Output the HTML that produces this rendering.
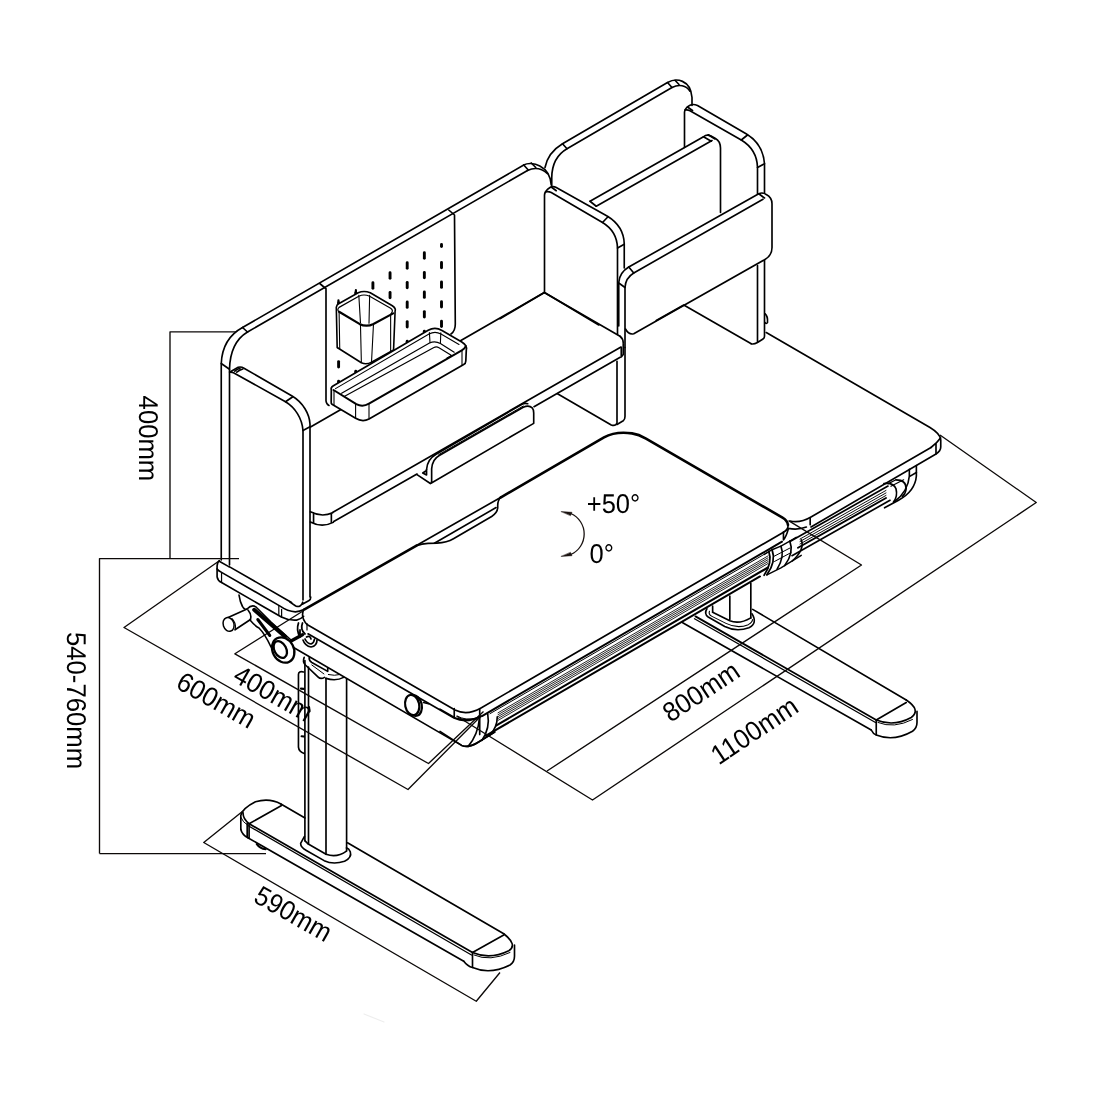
<!DOCTYPE html>
<html><head><meta charset="utf-8"><title>Desk dimensions</title>
<style>
html,body{margin:0;padding:0;background:#fff;}
body{width:1100px;height:1100px;overflow:hidden;font-family:"Liberation Sans",Arial,sans-serif;}
svg{display:block}
svg path, svg line{stroke:#000;stroke-linecap:round;stroke-linejoin:round}
svg text{font-family:"Liberation Sans",Arial,sans-serif;fill:#000;text-rendering:geometricPrecision}
</style></head><body>
<svg width="1100" height="1100" viewBox="0 0 1100 1100">
<rect width="1100" height="1100" fill="#fff"/>
<path d="M 545.00 167.50 Q 548.00 152.50 562.50 143.75 L 667.50 82.50 C 676.25 77.50 690.50 79.50 692.00 97.50 L 692.00 105.50" stroke-width="1.65" fill="none" />
<path d="M 551.75 186.25 L 551.75 177.50 Q 552.00 157.50 567.00 148.75 L 672.00 87.50 C 678.75 84.00 686.25 85.00 690.00 91.25" stroke-width="1.65" fill="none" />
<path d="M 562.50 143.75 L 567.00 148.75 M 667.50 82.50 L 672.00 87.50 M 675.00 80.25 L 679.00 84.50" stroke-width="1.65" fill="none" />
<path d="M 684.50 147.50 L 684.50 112.00 Q 685.00 108.00 689.50 105.50 Q 693.00 103.50 697.50 105.50 L 746.50 134.00 Q 763.00 144.00 764.50 163.75 L 764.50 193.00" stroke-width="1.65" fill="none" />
<path d="M 685.00 110.00 Q 687.50 109.50 690.00 110.75 L 741.25 140.00 Q 757.00 149.50 757.50 167.50 L 757.50 193.75" stroke-width="1.65" fill="none" />
<path d="M 687.50 107.00 L 692.50 110.50 M 741.25 140.00 L 747.50 135.00 M 757.50 167.50 L 764.50 163.75" stroke-width="1.65" fill="none" />
<path d="M 590.00 201.25 L 703.50 136.75 Q 706.50 134.00 710.50 135.75 L 715.50 138.50 Q 720.25 141.00 720.50 148.00 L 720.50 212.50" stroke-width="1.65" fill="none" />
<path d="M 596.25 206.25 L 712.00 140.50" stroke-width="1.65" fill="none" />
<path d="M 590.00 201.25 L 596.25 206.25 M 703.50 136.75 L 711.25 141.25 M 708.25 134.75 L 715.00 139.00" stroke-width="1.65" fill="none" />
<path d="M 544.50 292.50 L 544.50 195.00 Q 545.00 190.50 550.00 187.50 Q 553.00 185.75 556.25 187.50 L 607.50 216.25 Q 623.75 226.25 624.25 243.75 L 624.25 268.00" stroke-width="1.65" fill="none" />
<path d="M 545.50 192.00 Q 548.00 191.00 551.25 192.50 L 602.50 222.50 Q 617.00 231.25 617.50 248.00 L 617.50 334.50" stroke-width="1.65" fill="none" />
<path d="M 551.25 187.00 L 556.25 190.75 M 602.50 222.50 L 608.00 216.75 M 617.50 248.00 L 624.25 244.25" stroke-width="1.65" fill="none" />
<path d="M 500.00 318.75 L 544.50 292.50 L 598.75 325.00" stroke-width="1.65" fill="none" />
<path d="M 618.75 326.00 L 618.75 282.50 Q 619.50 272.50 628.75 267.00 L 758.75 193.75 Q 762.50 192.00 766.25 194.50 Q 772.00 197.50 772.00 203.75 L 772.00 247.50 Q 772.00 255.50 765.00 259.50 L 633.75 333.75 Q 628.75 335.00 625.50 329.00" stroke-width="1.65" fill="none" />
<path d="M 625.00 347.50 L 625.00 287.50 Q 625.50 278.00 633.75 273.00 L 763.00 199.25" stroke-width="1.65" fill="none" />
<path d="M 618.75 283.00 L 625.00 287.50 M 628.75 267.00 L 633.75 273.00 M 758.75 193.75 L 764.50 198.00" stroke-width="1.65" fill="none" />
<path d="M 757.50 265.50 L 757.50 342.50 M 764.50 260.50 L 764.50 336.25 Q 764.50 338.00 763.00 339.00 L 757.50 342.50 Q 753.75 344.50 751.25 343.75" stroke-width="1.65" fill="none" />
<path d="M 683.75 305.00 L 751.25 343.75 M 683.75 305.00 L 656.25 320.50" stroke-width="1.65" fill="none" />
<path d="M 765.00 313.75 Q 768.00 316.25 767.50 322.50 Q 766.50 324.50 765.00 322.50" stroke-width="1.65" fill="none" />
<path d="M 221.25 560.00 L 221.25 363.50 C 222.00 346.25 228.75 335.00 242.50 327.50" stroke-width="1.65" fill="none" />
<path d="M 242.50 327.50 L 523.75 165.00" stroke-width="1.65" fill="none" />
<path d="M 523.75 165.00 C 531.25 160.75 550.00 165.00 551.25 185.00" stroke-width="1.65" fill="none" />
<path d="M 229.50 372.00 L 229.50 369.25 C 230.00 350.00 236.25 338.75 247.50 332.00" stroke-width="1.65" fill="none" />
<path d="M 247.50 332.00 L 527.50 170.50" stroke-width="1.65" fill="none" />
<path d="M 527.50 170.50 C 533.75 167.50 541.25 168.00 547.50 173.75" stroke-width="1.65" fill="none" />
<path d="M 221.25 363.50 L 229.50 369.25 M 242.50 327.50 L 247.50 332.00" stroke-width="1.65" fill="none" />
<path d="M 523.75 165.00 L 528.25 170.00 M 531.25 163.00 L 535.75 167.50" stroke-width="1.65" fill="none" />
<path d="M 229.50 565.00 L 229.50 372.20 L 238.20 367.30 Q 241.20 366.50 244.00 368.20 L 292.50 396.20 C 303.00 402.50 309.50 414.00 310.00 424.00 L 310.00 597.00" stroke-width="1.65" fill="none" />
<path d="M 229.80 372.20 Q 231.50 371.80 233.50 372.70 L 285.50 401.80 C 295.00 407.50 302.00 418.00 303.00 430.50 L 303.00 600.00" stroke-width="1.65" fill="none" />
<path d="M 285.50 401.80 L 292.50 397.00 M 303.00 430.50 L 310.00 426.80 M 234.80 371.20 Q 237.00 369.00 240.00 368.20 M 236.80 372.20 Q 239.50 370.00 242.80 369.00" stroke-width="1.65" fill="none" />
<path d="M 310.50 427.00 L 544.25 292.50" stroke-width="1.65" fill="none" />
<path d="M 320.00 283.75 L 326.00 288.75 L 326.00 401.00 Q 326.50 404.50 329.00 405.50" stroke-width="1.65" fill="none" />
<path d="M 448.75 210.00 L 454.50 215.00 L 455.30 324.00 Q 455.30 331.00 451.00 334.00" stroke-width="1.65" fill="none" />
<path d="M 544.25 292.50 L 620.00 336.25" stroke-width="1.65" fill="none" />
<path d="M 620.00 336.25 Q 623.25 338.75 623.25 343.00" stroke-width="1.65" fill="none" />
<path d="M 621.00 347.00 L 332.50 512.50" stroke-width="1.65" fill="none" />
<path d="M 620.20 357.30 L 534.00 406.70" stroke-width="1.65" fill="none" />
<path d="M 417.00 474.00 L 333.75 521.50" stroke-width="1.65" fill="none" />
<path d="M 557.50 393.75 L 611.25 425.00 Q 615.50 426.50 617.00 423.00 L 617.00 361.25" stroke-width="1.65" fill="none" />
<path d="M 617.00 424.50 L 623.25 420.75 Q 625.00 419.50 625.00 416.50 L 625.00 347.50" stroke-width="1.65" fill="none" />
<path d="M 623.25 343.75 L 623.25 354.50 M 621.25 347.50 L 621.25 357.00 L 623.25 354.50" stroke-width="1.65" fill="none" />
<path d="M 417.00 474.64 L 430.36 483.55 M 426.55 469.55 L 426.55 475.02 L 422.73 472.98 L 426.55 470.44" stroke-width="1.65" fill="none" />
<path d="M 426.55 469.55 Q 427.18 459.36 436.09 454.27 L 522.00 404.25 Q 524.55 402.73 527.73 403.75" stroke-width="1.65" fill="none" />
<path d="M 431.64 481.64 L 431.64 468.91 Q 432.27 459.36 439.27 455.55 L 523.27 407.18 Q 529.00 404.64 532.18 407.82 Q 533.71 409.73 533.71 412.91 L 533.71 423.35 L 431.00 483.17 Z" stroke-width="1.65" fill="#fff" />
<path d="M 438.64 454.66 L 523.27 406.04" stroke-width="1.0" fill="none" />
<path d="M 310.36 511.82 Q 321.82 517.55 332.64 512.84 M 310.36 522.00 Q 321.82 528.11 333.27 522.38 M 313.55 512.84 L 313.55 522.64 M 331.36 513.47 L 331.36 523.02" stroke-width="1.65" fill="none" />
<path d="M 290.00 602.18 L 295.73 606.00 Q 300.82 607.91 302.73 602.18 M 302.73 604.09 L 309.09 600.53 Q 310.75 599.64 310.75 597.09" stroke-width="1.65" fill="none" />
<path d="M 416.00 545.80 L 501.00 497.20" stroke-width="1.65" fill="none" />
<path d="M 304.50 609.30 L 416.50 545.60" stroke-width="2.6" fill="none" />
<path d="M 500.50 497.60 L 604.00 437.40 C 612.00 433.00 622.00 432.00 632.00 433.40 C 638.00 434.30 642.00 436.30 646.00 438.60 L 782.50 517.60 Q 787.50 520.50 788.00 525.00" stroke-width="2.6" fill="none" />
<path d="M 788.00 525.00 Q 788.50 529.50 783.50 532.20" stroke-width="1.65" fill="none" />
<path d="M 416.55 545.73 Q 421.64 543.56 428.00 543.31 L 436.91 543.18 Q 447.09 542.55 453.46 538.73 L 491.64 516.46 Q 497.75 512.64 497.75 506.91 Q 497.37 500.55 500.55 497.36" stroke-width="1.65" fill="none" />
<path d="M 434.36 543.18 L 496.09 507.55" stroke-width="1.65" fill="none" />
<path d="M 304.00 609.00 Q 300.00 617.00 307.00 624.50 L 455.00 710.00 Q 467.00 716.00 481.00 708.00 L 783.50 532.20" stroke-width="1.65" fill="none" />
<path d="M 766.25 332.50 L 930.00 427.50 Q 940.75 434.00 940.75 440.00 L 940.75 447.00 Q 940.75 451.00 936.00 454.00 L 811.00 527.00" stroke-width="1.65" fill="none" />
<path d="M 931.00 447.50 L 811.00 517.00 Q 800.00 523.50 790.00 521.00" stroke-width="1.65" fill="none" />
<path d="M 936.00 443.00 L 936.00 454.00 M 931.00 447.50 Q 937.00 443.00 940.50 438.00" stroke-width="1.65" fill="none" />
<path d="M 441.50 244.50 L 441.50 246.50" stroke-width="2.9" fill="none"/>
<path d="M 441.50 262.40 L 441.50 267.80" stroke-width="2.9" fill="none"/>
<path d="M 441.50 282.00 L 441.50 287.40" stroke-width="2.9" fill="none"/>
<path d="M 441.50 301.60 L 441.50 307.00" stroke-width="2.9" fill="none"/>
<path d="M 441.50 321.20 L 441.50 326.60" stroke-width="2.9" fill="none"/>
<path d="M 424.35 252.80 L 424.35 258.20" stroke-width="2.9" fill="none"/>
<path d="M 424.35 272.40 L 424.35 277.80" stroke-width="2.9" fill="none"/>
<path d="M 424.35 292.00 L 424.35 297.40" stroke-width="2.9" fill="none"/>
<path d="M 424.35 311.60 L 424.35 317.00" stroke-width="2.9" fill="none"/>
<path d="M 424.35 331.20 L 424.35 336.60" stroke-width="2.9" fill="none"/>
<path d="M 407.20 262.80 L 407.20 268.20" stroke-width="2.9" fill="none"/>
<path d="M 407.20 282.40 L 407.20 287.80" stroke-width="2.9" fill="none"/>
<path d="M 407.20 302.00 L 407.20 307.40" stroke-width="2.9" fill="none"/>
<path d="M 407.20 321.60 L 407.20 327.00" stroke-width="2.9" fill="none"/>
<path d="M 407.20 341.20 L 407.20 346.60" stroke-width="2.9" fill="none"/>
<path d="M 390.05 272.80 L 390.05 278.20" stroke-width="2.9" fill="none"/>
<path d="M 390.05 292.40 L 390.05 297.80" stroke-width="2.9" fill="none"/>
<path d="M 390.05 312.00 L 390.05 317.40" stroke-width="2.9" fill="none"/>
<path d="M 390.05 331.60 L 390.05 337.00" stroke-width="2.9" fill="none"/>
<path d="M 390.05 351.20 L 390.05 356.60" stroke-width="2.9" fill="none"/>
<path d="M 372.90 282.80 L 372.90 288.20" stroke-width="2.9" fill="none"/>
<path d="M 372.90 302.40 L 372.90 307.80" stroke-width="2.9" fill="none"/>
<path d="M 372.90 322.00 L 372.90 327.40" stroke-width="2.9" fill="none"/>
<path d="M 372.90 341.60 L 372.90 347.00" stroke-width="2.9" fill="none"/>
<path d="M 372.90 361.20 L 372.90 366.60" stroke-width="2.9" fill="none"/>
<path d="M 355.75 292.80 L 355.75 298.20" stroke-width="2.9" fill="none"/>
<path d="M 355.75 312.40 L 355.75 317.80" stroke-width="2.9" fill="none"/>
<path d="M 355.75 332.00 L 355.75 337.40" stroke-width="2.9" fill="none"/>
<path d="M 355.75 351.60 L 355.75 357.00" stroke-width="2.9" fill="none"/>
<path d="M 355.75 371.20 L 355.75 376.60" stroke-width="2.9" fill="none"/>
<path d="M 338.60 302.80 L 338.60 308.20" stroke-width="2.9" fill="none"/>
<path d="M 338.60 322.40 L 338.60 327.80" stroke-width="2.9" fill="none"/>
<path d="M 338.60 342.00 L 338.60 347.40" stroke-width="2.9" fill="none"/>
<path d="M 338.60 361.60 L 338.60 367.00" stroke-width="2.9" fill="none"/>
<path d="M 338.60 381.20 L 338.60 386.60" stroke-width="2.9" fill="none"/>
<path d="M 338.45 300.36 L 338.45 305.46 M 355.89 290.18 L 355.89 294.00" stroke-width="2.2" fill="none" />
<path d="M 336.29 307.36 Q 336.55 304.82 339.09 303.55 L 358.18 292.73 Q 363.91 290.18 370.27 292.73 L 391.91 305.46 Q 396.37 308.26 395.09 311.18 L 393.56 350.00 L 371.55 362.09 Q 366.46 365.02 361.36 362.73 L 337.18 347.46 Z" stroke-width="1.6" fill="#fff" />
<path d="M 339.09 311.82 L 359.46 323.91 Q 366.46 327.35 373.46 323.91 L 393.18 313.35" stroke-width="2.2" fill="none" />
<path d="M 339.09 311.82 Q 336.55 309.91 339.09 307.36 L 358.82 296.29 Q 363.91 293.75 369.64 296.29 L 390.64 308.26 Q 393.82 310.55 391.27 313.35" stroke-width="1.2" fill="none" />
<path d="M 360.47 324.55 L 361.36 362.09 M 373.46 324.55 L 371.55 361.46 M 358.82 295.27 L 360.47 322.64 M 369.64 295.27 L 369.00 323.27 M 339.09 311.82 L 339.73 348.47 M 390.64 314.11 L 390.64 351.27" stroke-width="1.1" fill="none" />
<path d="M 331.30 390.00 Q 330.50 387.50 333.00 386.00 L 428.20 330.30 Q 435.00 326.50 442.00 330.50 L 461.80 342.00 Q 467.50 345.50 466.30 350.00 L 465.80 361.00 Q 465.80 363.50 463.70 364.50 L 369.00 419.00 Q 362.50 422.50 355.60 418.30 L 332.00 404.30 Q 331.00 403.50 331.20 402.00 Z" stroke-width="1.7" fill="#fff" />
<path d="M 333.50 390.00 L 356.30 404.10 Q 362.50 407.50 369.00 403.70 L 461.80 350.30 Q 465.00 348.50 465.80 346.00" stroke-width="2.0" fill="none" />
<path d="M 335.50 388.60 L 429.00 334.00 Q 435.00 330.80 441.00 334.00 L 459.00 344.50" stroke-width="1.1" fill="none" />
<path d="M 429.40 332.50 L 430.00 342.60 M 440.80 332.80 L 440.40 343.30 M 355.60 404.00 L 355.60 418.00 M 369.00 404.00 L 369.00 418.80 M 334.00 390.50 L 334.00 405.00 M 462.00 350.50 L 462.00 365.00" stroke-width="1.1" fill="none" />
<path d="M 341.60 393.30 L 429.50 343.00 Q 435.00 340.50 440.40 343.50 L 454.20 352.20" stroke-width="1.2" fill="none" />
<path d="M 344.20 396.50 L 433.90 347.50 Q 436.50 346.30 439.00 347.80 L 451.60 355.40 L 447.00 358.00" stroke-width="1.2" fill="none" />
<path d="M 280.90 804.00 L 305.00 818.00 M 347.50 842.80 L 503.75 933.75" stroke-width="1.65" fill="none" />
<path d="M 249.10 823.70 L 472.50 952.50" stroke-width="1.8" fill="none" />
<path d="M 249.10 826.20 L 471.50 955.00" stroke-width="1.3" fill="none" />
<path d="M 247.80 837.70 L 463.75 961.25" stroke-width="1.65" fill="none" />
<path d="M 240.82 829.46 L 240.82 815.46 Q 242.09 808.45 255.46 801.71 Q 269.46 797.64 280.91 804.00" stroke-width="1.65" fill="none" />
<path d="M 243.11 812.91 Q 242.73 818.64 249.09 823.73 L 281.55 805.53" stroke-width="1.65" fill="none" />
<path d="M 240.82 817.36 Q 242.09 821.82 249.09 826.27" stroke-width="1.0" fill="none" />
<path d="M 240.82 829.46 Q 242.09 834.55 247.82 837.73 M 249.09 824.11 L 249.09 838.11 M 247.18 823.35 L 247.18 837.09" stroke-width="1.65" fill="none" />
<path d="M 256.73 844.09 Q 259.91 848.55 265.64 849.18" stroke-width="2.0" fill="none" />
<path d="M 472.50 952.50 L 503.75 935.00 M 472.50 952.50 L 472.50 967.50" stroke-width="1.65" fill="none" />
<path d="M 472.50 952.50 Q 490.00 960.00 508.75 950.75 Q 518.00 945.00 503.75 933.75" stroke-width="1.65" fill="none" />
<path d="M 474.00 955.00 Q 490.00 962.00 510.00 952.50" stroke-width="1.0" fill="none" />
<path d="M 463.75 961.25 Q 467.50 966.25 472.50 967.50 Q 490.00 975.00 510.00 965.00 Q 514.50 962.00 514.50 956.25 L 514.50 945.00" stroke-width="1.65" fill="none" />
<path d="M 304.90 660.50 L 304.90 841.00 M 308.50 667.00 L 308.50 844.00 M 326.00 678.40 L 326.00 854.30 M 346.60 679.00 L 346.60 851.00" stroke-width="1.65" fill="none" />
<path d="M 305.09 840.91 L 308.27 844.09 L 326.09 854.27 Q 336.91 858.09 346.46 851.09" stroke-width="1.65" fill="none" />
<path d="M 304.46 836.46 L 300.64 843.46 Q 300.64 847.27 306.37 850.46 L 324.18 860.64 Q 333.09 865.09 344.55 861.27 Q 352.18 857.46 350.27 851.73 Q 349.00 848.55 346.46 847.91" stroke-width="1.65" fill="none" />
<path d="M 304.18 657.36 Q 302.27 661.82 305.46 665.00 L 318.18 677.09 Q 320.73 679.64 324.55 677.35" stroke-width="1.65" fill="none" />
<path d="M 309.27 657.36 Q 308.64 660.55 311.82 662.46 L 327.73 671.36 L 327.73 668.18" stroke-width="1.65" fill="none" />
<path d="M 311.82 665.00 L 323.91 673.91" stroke-width="1.0" fill="none" />
<path d="M 325.82 678.36 Q 336.00 681.55 343.64 677.35" stroke-width="1.65" fill="none" />
<path d="M 328.36 674.55 Q 334.73 676.07 339.82 674.55" stroke-width="1.0" fill="none" />
<path d="M 303.55 672.00 Q 298.45 670.73 298.45 674.55 L 298.45 747.09 Q 298.84 751.55 304.18 753.46" stroke-width="1.65" fill="none" />
<path d="M 301.00 688.55 L 303.55 688.80 M 301.64 736.27 L 303.93 736.53 M 309.02 707.00 L 309.53 711.46" stroke-width="2.2" fill="none" />
<path d="M 482.00 716.02 L 782.00 541.67" stroke-width="2.0" fill="none"/>
<path d="M 490.00 713.67 L 770.00 550.95" stroke-width="1.0" fill="none"/>
<path d="M 498.00 712.82 L 768.00 555.91" stroke-width="0.85" fill="none"/>
<path d="M 498.00 714.72 L 768.00 557.81" stroke-width="0.85" fill="none"/>
<path d="M 498.00 716.62 L 768.00 559.71" stroke-width="0.85" fill="none"/>
<path d="M 498.00 718.52 L 768.00 561.61" stroke-width="0.85" fill="none"/>
<path d="M 498.00 720.42 L 768.00 563.51" stroke-width="0.85" fill="none"/>
<path d="M 496.00 725.58 L 768.00 567.51" stroke-width="2.1" fill="none"/>
<path d="M 486.00 735.69 L 760.00 576.46" stroke-width="2.0" fill="none"/>
<path d="M 790.00 541.47 L 888.00 486.10" stroke-width="1.7" fill="none"/>
<path d="M 800.00 539.02 L 886.00 490.43" stroke-width="0.95" fill="none"/>
<path d="M 800.00 541.52 L 886.00 492.93" stroke-width="0.95" fill="none"/>
<path d="M 800.00 544.02 L 886.00 495.43" stroke-width="0.95" fill="none"/>
<path d="M 798.00 547.75 L 886.00 498.03" stroke-width="1.9" fill="none"/>
<path d="M 792.00 555.64 L 890.00 500.27" stroke-width="1.7" fill="none"/>
<path d="M 772.00 549.36 Q 776.46 561.46 766.91 574.82 M 768.82 551.27 Q 772.64 562.73 764.11 575.20" stroke-width="1.8" fill="none" />
<path d="M 780.91 546.18 Q 784.98 556.37 777.09 569.09 M 789.82 541.09 Q 794.27 552.55 784.73 565.53 M 801.27 539.82 Q 805.09 549.36 792.36 560.82" stroke-width="1.65" fill="none" />
<path d="M 764.36 554.46 L 772.00 549.75 L 780.91 546.18 L 789.82 541.09 L 796.18 537.27 M 766.91 574.82 L 780.91 567.82 L 801.27 555.35" stroke-width="1.4" fill="none" />
<path d="M 773.91 556.37 L 789.82 548.09 M 774.55 561.46 L 791.09 552.55" stroke-width="1.0" fill="none" />
<path d="M 783.46 532.18 L 783.46 539.82 Q 786.00 537.27 788.55 528.36 M 788.55 528.36 Q 797.46 530.27 806.37 527.09 M 810.18 518.18 L 810.18 524.80" stroke-width="1.65" fill="none" />
<path d="M 440.00 709.09 L 455.27 718.00 Q 468.00 721.82 480.73 716.73 M 454.25 708.46 L 454.25 717.37 M 479.71 709.09 L 479.71 734.55" stroke-width="1.65" fill="none" />
<path d="M 479.46 718.00 Q 478.18 734.55 468.00 746.64 M 487.73 714.18 Q 490.27 728.18 482.00 740.27 M 497.27 716.73 Q 497.27 726.91 490.27 734.55" stroke-width="1.65" fill="none" />
<path d="M 440.00 731.37 L 461.64 745.37 Q 468.00 748.55 478.18 742.18 L 494.73 732.00" stroke-width="1.65" fill="none" />
<path d="M 457.18 716.09 Q 465.46 720.55 476.91 719.27" stroke-width="1.0" fill="none" />
<path d="M 916.37 465.56 L 916.37 476.00 Q 915.09 491.27 898.55 500.18 L 884.55 507.82" stroke-width="1.65" fill="none" />
<path d="M 909.36 469.38 L 909.36 476.00 Q 908.09 491.27 894.73 501.46 M 909.36 476.64 L 916.37 472.44" stroke-width="1.65" fill="none" />
<path d="M 883.91 483.64 Q 893.46 482.36 896.00 488.73 Q 897.91 496.37 893.46 502.09 M 896.00 479.82 Q 906.18 479.82 906.18 488.73 Q 905.55 493.82 902.36 496.37" stroke-width="1.65" fill="none" />
<path d="M 888.36 483.64 L 896.00 479.82 M 890.91 486.18 L 903.64 479.82" stroke-width="1.2" fill="none" />
<path d="M 752.70 609.40 L 906.25 700.00" stroke-width="1.65" fill="none" />
<path d="M 695.50 616.40 L 876.25 720.00" stroke-width="1.8" fill="none" />
<path d="M 694.50 618.80 L 875.50 722.50" stroke-width="1.3" fill="none" />
<path d="M 682.70 622.70 L 871.25 730.00" stroke-width="1.65" fill="none" />
<path d="M 876.25 720.00 L 906.25 702.50 M 876.25 720.00 L 876.25 735.00" stroke-width="1.65" fill="none" />
<path d="M 876.25 720.00 Q 893.75 727.00 911.25 717.50 Q 921.25 710.00 906.25 700.00" stroke-width="1.65" fill="none" />
<path d="M 878.00 722.50 Q 893.75 729.00 912.50 719.50" stroke-width="1.0" fill="none" />
<path d="M 871.25 730.00 Q 873.00 733.75 876.25 735.00 Q 893.75 742.00 912.50 731.25 Q 917.00 728.00 917.00 722.50 L 917.00 711.25" stroke-width="1.65" fill="none" />
<path d="M 729.82 596.00 L 729.82 619.55 M 750.82 583.27 L 750.82 618.27 M 712.64 606.18 L 712.64 612.29" stroke-width="1.65" fill="none" />
<path d="M 712.64 612.29 L 729.82 620.82 Q 739.36 624.64 750.82 617.89" stroke-width="1.65" fill="none" />
<path d="M 706.91 608.73 Q 703.73 613.82 708.18 617.00 L 724.73 626.55 Q 736.18 632.27 748.91 627.82 Q 757.82 623.37 752.09 613.82" stroke-width="1.65" fill="none" />
<path d="M 709.46 611.27 Q 708.18 614.46 712.00 616.37 L 726.00 623.37 Q 737.46 629.09 748.27 624.64 Q 752.73 622.09 752.47 619.55" stroke-width="1.1" fill="none" />
<path d="M 236 331.8 L 170 331.8 L 170 558.6 M 99.5 853.6 L 266 853.6 M 239 558.6 L 99.5 558.6 L 99.5 853.6" stroke-width="1.35" fill="none" style="stroke:#0c0908;stroke-linecap:butt"/>
<path d="M 219 561 L 124 627.5 L 408 789.5 L 481 716" stroke-width="1.35" fill="none" style="stroke:#0c0908;stroke-linecap:butt"/>
<path d="M 303 611 L 234.9 653.8 L 428.5 763.5 L 483.5 711.5" stroke-width="1.35" fill="none" style="stroke:#0c0908;stroke-linecap:butt"/>
<path d="M 456.5 716 L 592.5 800 L 1036.25 502.5 L 940 435" stroke-width="1.35" fill="none" style="stroke:#0c0908;stroke-linecap:butt"/>
<path d="M 547 771 L 861.5 565 L 788.5 520.7" stroke-width="1.35" fill="none" style="stroke:#0c0908;stroke-linecap:butt"/>
<path d="M 243 811 L 203.75 842.5 L 476.25 1001.25 L 500 972.5" stroke-width="1.35" fill="none" style="stroke:#0c0908;stroke-linecap:butt"/>
<g style="filter:grayscale(1)"><text x="0" y="0" font-size="27.2" transform="translate(138.60 395.60) rotate(90.00) scale(0.945 1)" fill="#1a1311">400mm</text></g>
<g style="filter:grayscale(1)"><text x="0" y="0" font-size="27.2" transform="translate(67.20 632.00) rotate(90.00) scale(0.945 1)" fill="#1a1311">540-760mm</text></g>
<g style="filter:grayscale(1)"><text x="0" y="0" font-size="27.2" transform="translate(174.40 687.20) rotate(29.50) scale(0.945 1)" fill="#1a1311">600mm</text></g>
<g style="filter:grayscale(1)"><text x="0" y="0" font-size="27.2" transform="translate(231.40 680.40) rotate(29.50) scale(0.945 1)" fill="#1a1311">400mm</text></g>
<g style="filter:grayscale(1)"><text x="0" y="0" font-size="27.2" transform="translate(252.30 901.30) rotate(29.50) scale(0.925 1)" fill="#1a1311">590mm</text></g>
<g style="filter:grayscale(1)"><text x="0" y="0" font-size="27.2" transform="translate(670.40 722.90) rotate(-33.50) scale(0.945 1)" fill="#1a1311">800mm</text></g>
<g style="filter:grayscale(1)"><text x="0" y="0" font-size="27.2" transform="translate(718.80 765.40) rotate(-33.80) scale(0.945 1)" fill="#1a1311">1100mm</text></g>
<g style="filter:grayscale(1)"><text x="0" y="0" font-size="27.1" transform="translate(586.80 512.50) rotate(0.00) scale(0.94 1)" fill="#1a1311">+50°</text></g>
<g style="filter:grayscale(1)"><text x="0" y="0" font-size="27.1" transform="translate(589.60 562.90) rotate(0.00) scale(0.94 1)" fill="#1a1311">0°</text></g>
<path d="M 570.8 513.5 A 22.4 22.4 0 0 1 570.8 554.5" stroke-width="1.3" fill="none" style="stroke:#1a1311"/>
<path d="M 561.3 511.6 L 572 512.3 L 570.6 515.4 Z M 561.3 556.4 L 572 555.7 L 570.6 552.6 Z" stroke-width="0.5" fill="#1a1311" style="stroke:#1a1311"/>
<path d="M 229.18 566.64 L 291.55 602.53" stroke-width="1.65" fill="none" />
<path d="M 219.25 560.53 Q 217.09 562.82 217.09 566.00 L 217.09 576.82 Q 217.73 580.64 221.55 582.55 L 281.37 616.91 Q 289.00 620.73 296.64 620.09 Q 300.46 619.46 303.64 616.27" stroke-width="1.65" fill="none" />
<path d="M 219.25 561.29 L 229.18 566.89 M 217.09 568.93 Q 218.36 570.71 221.55 572.36 L 280.09 606.09 Q 287.73 611.44 295.37 611.82 Q 299.82 611.44 303.26 609.66" stroke-width="1.65" fill="none" />
<path d="M 221.55 572.36 L 221.55 582.55 M 278.82 605.84 L 278.82 615.26 M 281.62 609.27 L 281.62 617.04" stroke-width="1.2" fill="none" />
<path d="M 239.00 595.00 Q 240.00 602.00 242.50 606.50 Q 243.50 608.50 245.00 609.00" stroke-width="1.65" fill="none" />
<path d="M 227.00 618.00 L 247.00 609.00 M 235.00 629.80 L 250.50 619.50" stroke-width="1.65" fill="none" />
<ellipse cx="228.6" cy="624.4" rx="5.4" ry="7" transform="rotate(-18 228.6 624.4)" stroke="#000" stroke-width="1.5" fill="#fff"/>
<path d="M 231.80 618.50 Q 236.50 623.00 235.30 629.20" stroke-width="1.1" fill="none" />
<path d="M 247.00 609.00 Q 252.00 604.00 256.00 607.00 L 271.00 622.00 L 291.00 640.00" stroke-width="1.6" fill="none" />
<path d="M 248.00 610.00 Q 252.50 615.50 250.00 620.00 Q 255.00 626.00 259.00 628.00 Q 265.00 634.00 271.00 647.00" stroke-width="1.6" fill="none" />
<path d="M 254.20 609.80 L 285.00 636.60" stroke-width="4.0" fill="none" />
<path d="M 257.80 619.50 L 269.80 635.50" stroke-width="3.0" fill="none" />
<ellipse cx="283.2" cy="650" rx="10.6" ry="13.2" transform="rotate(-28 283.2 650)" stroke="#000" stroke-width="2.3" fill="#fff"/>
<ellipse cx="280.3" cy="649.5" rx="5.9" ry="9.0" transform="rotate(-28 280.3 649.5)" stroke="#000" stroke-width="2.3" fill="#fff"/>
<path d="M 291.50 640.80 L 302.50 634.80" stroke-width="3.4" fill="none" />
<path d="M 298.50 623.00 Q 296.00 630.00 300.00 637.00 M 302.50 623.00 Q 300.00 629.50 305.00 634.00 M 300.00 630.00 L 300.00 634.00" stroke-width="1.8" fill="none" />
<path d="M 303.00 640.00 Q 305.00 646.00 311.00 647.00 Q 317.00 646.00 317.00 640.00 M 305.00 639.00 Q 307.00 643.50 311.00 644.00 Q 314.00 643.00 314.50 639.00 M 306.50 637.00 Q 310.00 635.00 311.00 639.00" stroke-width="1.7" fill="none" />
<path d="M 308.00 633.80 L 454.00 718.00 Q 467.00 724.00 481.00 716.00" stroke-width="1.65" fill="none" />
<path d="M 294.00 647.80 L 461.60 745.40 Q 468.00 748.50 478.20 742.20 L 494.70 732.00" stroke-width="1.65" fill="none" />
<path d="M 307.00 623.50 L 307.00 630.00" stroke-width="1.2" fill="none" />
<ellipse cx="414.6" cy="705.6" rx="7.2" ry="10.4" transform="rotate(-12 414.6 705.6)" stroke="#000" stroke-width="2.2" fill="#fff"/>
<ellipse cx="412.2" cy="705" rx="7" ry="10.2" transform="rotate(-12 412.2 705)" stroke="#000" stroke-width="2.2" fill="#fff"/>
<path d="M 423.50 702.50 L 428.50 703.80" stroke-width="1.6" fill="none" />
<path d="M 364 1014 L 384 1022" stroke-width="1.2" fill="none" style="stroke:#eeeeee"/>
</svg>
</body></html>
